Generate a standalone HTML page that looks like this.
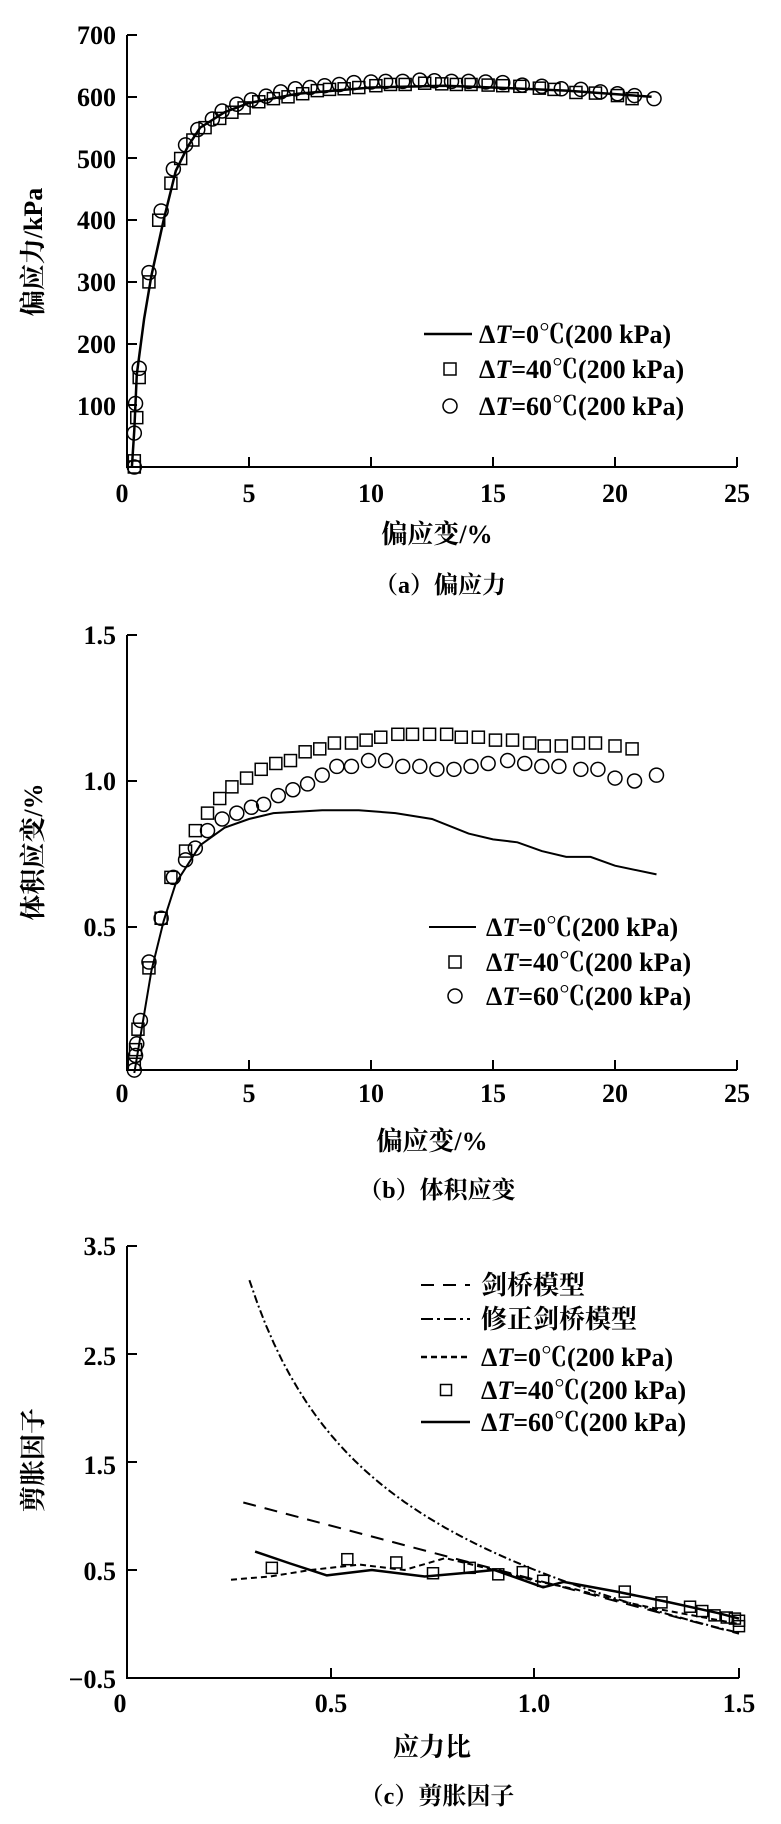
<!DOCTYPE html>
<html><head><meta charset="utf-8"><style>
html,body{margin:0;padding:0;background:#fff;}
svg text{font-family:"Liberation Serif","Noto Serif CJK SC",serif;fill:#000;}
</style></head><body>
<svg id="s" width="781" height="1819" viewBox="0 0 781 1819" xmlns="http://www.w3.org/2000/svg">
<g font-size="26" font-weight="bold">
<g text-anchor="end">
<text x="116" y="44">700</text><text x="116" y="106">600</text><text x="116" y="168">500</text><text x="116" y="229">400</text><text x="116" y="291">300</text><text x="116" y="353">200</text><text x="116" y="415">100</text>
</g>
<g text-anchor="middle">
<text x="122" y="502">0</text><text x="249" y="502">5</text><text x="371" y="502">10</text><text x="493" y="502">15</text><text x="615" y="502">20</text><text x="737" y="502">25</text>
<text x="437" y="543">偏应变/%</text>
<text x="440" y="593" font-size="24">（a）偏应力</text>
</g>
<text transform="translate(42,252) rotate(-90)" text-anchor="middle">偏应力/kPa</text>
<g>
<text x="479" y="343">Δ<tspan font-style="italic">T</tspan>=0℃(200 kPa)</text>
<text x="479" y="378">Δ<tspan font-style="italic">T</tspan>=40℃(200 kPa)</text>
<text x="479" y="415">Δ<tspan font-style="italic">T</tspan>=60℃(200 kPa)</text>
</g>
<g text-anchor="end">
<text x="116" y="644">1.5</text><text x="116" y="790">1.0</text><text x="116" y="936">0.5</text>
</g>
<g text-anchor="middle">
<text x="122" y="1102">0</text><text x="249" y="1102">5</text><text x="371" y="1102">10</text><text x="493" y="1102">15</text><text x="615" y="1102">20</text><text x="737" y="1102">25</text>
<text x="432" y="1150">偏应变/%</text>
<text x="437" y="1198" font-size="24">（b）体积应变</text>
</g>
<text transform="translate(42,852) rotate(-90)" text-anchor="middle">体积应变/%</text>
<g>
<text x="486" y="936">Δ<tspan font-style="italic">T</tspan>=0℃(200 kPa)</text>
<text x="486" y="971">Δ<tspan font-style="italic">T</tspan>=40℃(200 kPa)</text>
<text x="486" y="1005">Δ<tspan font-style="italic">T</tspan>=60℃(200 kPa)</text>
</g>
<g text-anchor="end">
<text x="116" y="1255">3.5</text><text x="116" y="1365">2.5</text><text x="116" y="1474">1.5</text><text x="116" y="1580">0.5</text><text x="116" y="1688">−0.5</text>
</g>
<g text-anchor="middle">
<text x="120" y="1712">0</text><text x="331" y="1712">0.5</text><text x="534" y="1712">1.0</text><text x="739" y="1712">1.5</text>
<text x="432" y="1756">应力比</text>
<text x="437" y="1804" font-size="24">（c）剪胀因子</text>
</g>
<text transform="translate(42,1460) rotate(-90)" text-anchor="middle">剪胀因子</text>
<g>
<text x="481" y="1294">剑桥模型</text>
<text x="481" y="1328">修正剑桥模型</text>
<text x="481" y="1366">Δ<tspan font-style="italic">T</tspan>=0℃(200 kPa)</text>
<text x="481" y="1399">Δ<tspan font-style="italic">T</tspan>=40℃(200 kPa)</text>
<text x="481" y="1431">Δ<tspan font-style="italic">T</tspan>=60℃(200 kPa)</text>
</g>
</g>
<g id="g" fill="none" stroke="#000"></g>
</svg>
<script>
var g=document.getElementById('g'),NS='http://www.w3.org/2000/svg';
function el(t,a){var e=document.createElementNS(NS,t);for(var k in a)e.setAttribute(k,a[k]);g.appendChild(e);return e;}
function axes(x0,yT,yB,xR,yt,xt){
 el('path',{d:'M'+x0+' '+yT+'V'+yB+'H'+xR,'stroke-width':2});
 yt.forEach(function(y){el('line',{x1:x0,x2:x0+10,y1:y,y2:y,'stroke-width':2});});
 xt.forEach(function(x){el('line',{x1:x,x2:x,y1:yB,y2:yB-10,'stroke-width':2});});
}
function poly(pts,fx,fy,attr){var d='';pts.forEach(function(p,i){d+=(i?'L':'M')+fx(p[0]).toFixed(1)+' '+fy(p[1]).toFixed(1);});attr.d=d;el('path',attr);}
function sq(x,y,s){el('rect',{x:x-s/2,y:y-s/2,width:s,height:s,'stroke-width':1.5});}
function ci(x,y,r){el('ellipse',{cx:x,cy:y,rx:r,ry:r,'stroke-width':1.5});}
axes(127,35,467,737,[35,97,158,220,282,344,405],[249,371,493,615,737]);
var ax=function(v){return 127+v*24.4},ay=function(v){return 467-v*0.617};
poly([[0.2,0],[0.3,60],[0.4,150],[0.7,240],[1,310],[1.5,400],[2,480],[2.5,520],[3,550],[4,575],[5,590],[7,605],[10,615],[13,618],[15,615],[18,610],[21.5,600]],ax,ay,{'stroke-width':2.5});
[[0.3,0],[0.3,10],[0.4,80],[0.5,145],[0.9,300],[1.3,400],[1.8,460],[2.2,500],[2.7,530],[3.2,550],[3.8,565],[4.3,575],[4.8,582],[5.4,592],[6,597],[6.6,600],[7.2,605],[7.8,610],[8.3,612],[8.9,613],[9.5,615],[10.2,618],[10.8,620],[11.4,620],[12.2,622],[12.9,621],[13.5,620],[14.1,620],[14.8,619],[15.4,618],[16.1,617],[16.9,614],[17.5,612],[18.4,607],[19.2,606],[20.1,602],[20.7,597]].forEach(function(p){sq(ax(p[0]),ay(p[1]),12);});
[[0.3,0],[0.3,55],[0.35,103],[0.5,160],[0.9,315],[1.4,415],[1.9,483],[2.4,522],[2.9,547],[3.5,564],[3.9,577],[4.5,588],[5.1,595],[5.7,601],[6.3,608],[6.9,613],[7.5,615],[8.1,618],[8.7,620],[9.3,623],[10,624],[10.6,625],[11.3,625],[12,627],[12.6,626],[13.3,625],[14,625],[14.7,624],[15.4,623],[16.2,619],[17,617],[17.8,613],[18.6,612],[19.4,608],[20.1,605],[20.8,602],[21.6,597]].forEach(function(p){ci(ax(p[0]),ay(p[1]),7);});
el('line',{x1:424,x2:472,y1:334,y2:334,'stroke-width':2.5});sq(450,369,12);ci(450,406,7);
axes(127,635,1070,737,[635,781,927],[249,371,493,615,737]);
var by=function(v){return 1073-v*292};
poly([[0.3,0],[0.5,0.1],[1,0.35],[1.5,0.52],[2,0.65],[3,0.78],[4,0.84],[5,0.87],[6,0.89],[8,0.9],[9.5,0.9],[11,0.89],[12.5,0.87],[14,0.82],[15,0.8],[16,0.79],[17,0.76],[18,0.74],[19,0.74],[20,0.71],[21.7,0.68]],ax,by,{'stroke-width':2});
[[0.3,0.03],[0.35,0.08],[0.45,0.15],[0.9,0.36],[1.4,0.53],[1.8,0.67],[2.4,0.76],[2.8,0.83],[3.3,0.89],[3.8,0.94],[4.3,0.98],[4.9,1.01],[5.5,1.04],[6.1,1.06],[6.7,1.07],[7.3,1.1],[7.9,1.11],[8.5,1.13],[9.2,1.13],[9.8,1.14],[10.4,1.15],[11.1,1.16],[11.7,1.16],[12.4,1.16],[13.1,1.16],[13.7,1.15],[14.4,1.15],[15.1,1.14],[15.8,1.14],[16.5,1.13],[17.1,1.12],[17.8,1.12],[18.5,1.13],[19.2,1.13],[20,1.12],[20.7,1.11]].forEach(function(p){sq(ax(p[0]),by(p[1]),12);});
[[0.3,0.01],[0.35,0.06],[0.4,0.1],[0.55,0.18],[0.9,0.38],[1.4,0.53],[1.9,0.67],[2.4,0.73],[2.8,0.77],[3.3,0.83],[3.9,0.87],[4.5,0.89],[5.1,0.91],[5.6,0.92],[6.2,0.95],[6.8,0.97],[7.4,0.99],[8,1.02],[8.6,1.05],[9.2,1.05],[9.9,1.07],[10.6,1.07],[11.3,1.05],[12,1.05],[12.7,1.04],[13.4,1.04],[14.1,1.05],[14.8,1.06],[15.6,1.07],[16.3,1.06],[17,1.05],[17.7,1.05],[18.6,1.04],[19.3,1.04],[20,1.01],[20.8,1],[21.7,1.02]].forEach(function(p){ci(ax(p[0]),by(p[1]),7);});
el('line',{x1:429,x2:476,y1:927,y2:927,'stroke-width':2});sq(455,962,12);ci(455,996,7);
axes(127,1246,1678,739,[1246,1354,1462,1570],[331,534,739]);
var cx=function(v){return 127+v*408},cy=function(v){return 1570-(v-0.5)*108};
poly([[0.285,1.125],[1.5,-0.09]],cx,cy,{'stroke-width':2,'stroke-dasharray':'13 9'});
var mc=[];for(var e=0.3;e<=1.5001;e+=0.02){mc.push([e,(2-e*e)/(2*e)]);}
poly(mc,cx,cy,{'stroke-width':2,'stroke-dasharray':'8 3 2 3'});
poly([[0.255,0.41],[0.35,0.44],[0.45,0.5],[0.57,0.55],[0.68,0.5],[0.78,0.61],[0.9,0.5],[1.0,0.4],[1.1,0.32],[1.2,0.22],[1.3,0.14],[1.4,0.07],[1.5,0.0]],cx,cy,{'stroke-width':2,'stroke-dasharray':'6 4'});
poly([[0.314,0.67],[0.4,0.56],[0.49,0.45],[0.6,0.5],[0.73,0.44],[0.82,0.47],[0.9,0.5],[0.96,0.42],[1.02,0.34],[1.07,0.39],[1.2,0.3],[1.33,0.2],[1.45,0.1],[1.5,0.05]],cx,cy,{'stroke-width':2.5,'stroke-linejoin':'round'});
[[0.355,0.52],[0.54,0.6],[0.66,0.57],[0.75,0.47],[0.84,0.52],[0.91,0.46],[0.97,0.48],[1.02,0.4],[1.22,0.3],[1.31,0.2],[1.38,0.16],[1.41,0.12],[1.44,0.08],[1.47,0.06],[1.49,0.05],[1.5,0.03],[1.5,-0.02]].forEach(function(p){sq(cx(p[0]),cy(p[1]),11);});
el('line',{x1:421,x2:470,y1:1285,y2:1285,'stroke-width':2,'stroke-dasharray':'13 9'});
el('line',{x1:421,x2:470,y1:1319,y2:1319,'stroke-width':2,'stroke-dasharray':'12 4 3 4'});
el('line',{x1:421,x2:470,y1:1357,y2:1357,'stroke-width':2.5,'stroke-dasharray':'6 4'});
sq(446,1390,11);
el('line',{x1:421,x2:470,y1:1422,y2:1422,'stroke-width':2.5});
</script>
</body></html>
